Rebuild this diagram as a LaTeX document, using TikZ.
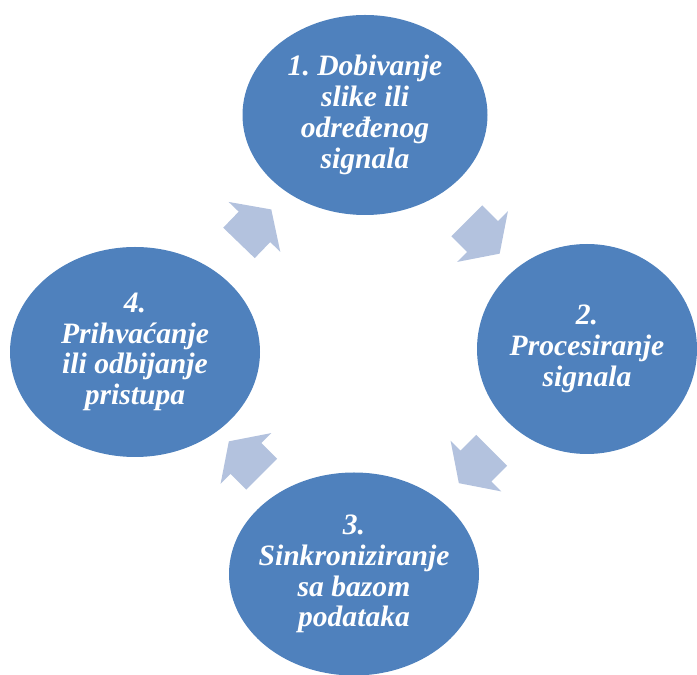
\documentclass[tikz,border=0pt]{standalone}
\usepackage{fontspec}
\setmainfont{Liberation Serif}
\usepackage{tikz}
\usetikzlibrary{shapes.geometric,shapes.arrows,calc}
\definecolor{phaseblue}{RGB}{79,129,189}
\definecolor{arrowblue}{RGB}{179,194,222}
\frenchspacing

\begin{document}
\begin{tikzpicture}[
    x=0.5pt,y=0.5pt,
    every node/.style={font=\fontsize{14.8}{15.4}\selectfont\bfseries\itshape},
    phase/.style={ellipse,fill=phaseblue,text=white,align=center,inner sep=-15pt},
    cyclearrow/.style={single arrow,fill=arrowblue,inner xsep=0pt,inner ysep=10.75pt,
        minimum height=23.25pt,single arrow head extend=7pt,single arrow tip angle=112}
]
\useasboundingbox (0,0) rectangle (697,675);

% Phases of the cycle
\node[phase,minimum width=122.5pt,minimum height=100pt] (acquire) at (365,560) {1. Dobivanje\\slike ili\\određenog\\signala};
\node[phase,minimum width=110pt,minimum height=105pt]   (process) at (587,326) {2.\\Procesiranje\\signala};
\node[phase,minimum width=125pt,minimum height=101.5pt] (sync)    at (354,101) {3.\\Sinkroniziranje\\sa bazom\\podataka};
\node[phase,minimum width=125pt,minimum height=105pt]   (accept)  at (135,323) {4.\\Prihvaćanje\\ili odbijanje\\pristupa};

% Arrows between phases
\node[cyclearrow,rotate=46]  (a41) at ($(accept)!0.5!(acquire)+(0,2)$) {};
\node[cyclearrow,rotate=-45] (a12) at ($(acquire)!0.5!(process)+(2,0)$) {};
\node[cyclearrow,rotate=225] (a23) at ($(process)!0.5!(sync)+(10,0)$) {};
\node[cyclearrow,rotate=135] (a34) at ($(sync)!0.5!(accept)+(6,0)$) {};

\end{tikzpicture}
\end{document}
